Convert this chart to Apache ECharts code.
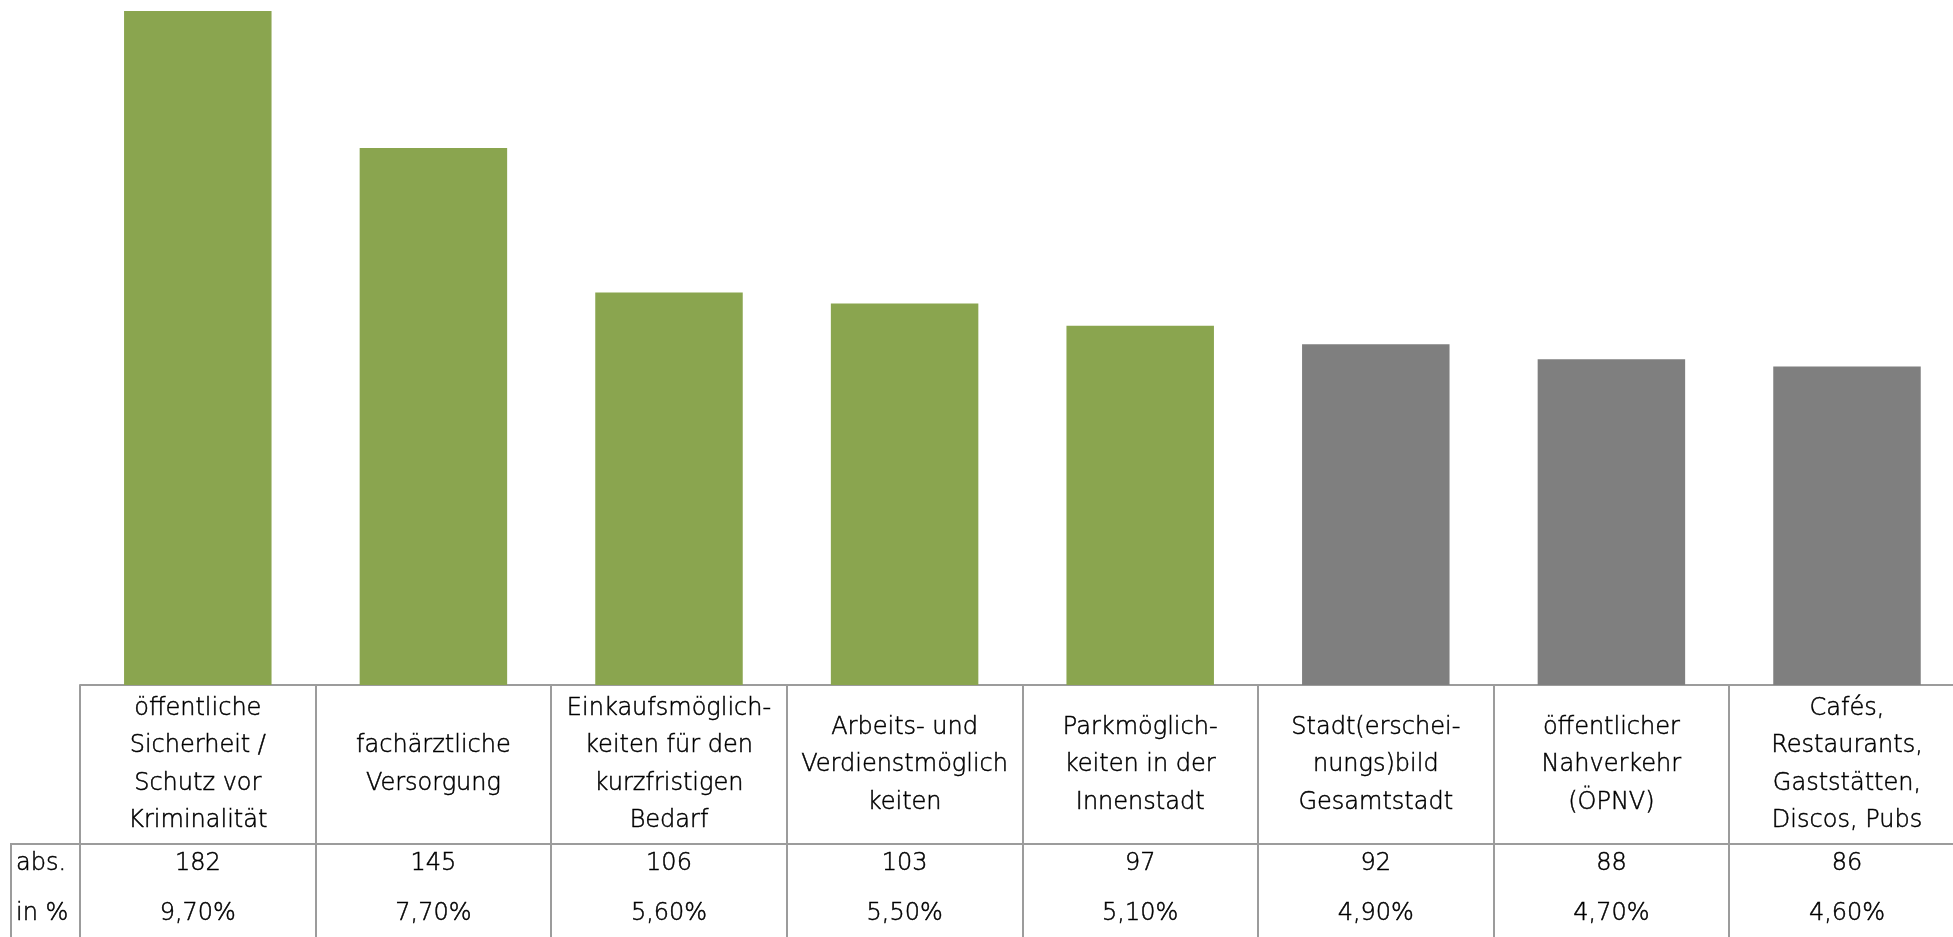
<!DOCTYPE html>
<html>
<head>
<meta charset="utf-8">
<title>Wichtigste Themen</title>
<script src="https://cdn.jsdelivr.net/npm/echarts@6/dist/echarts.min.js"></script>
<style>
  html, body { margin: 0; padding: 0; background: #ffffff; }
  #chart { width: 1953px; height: 937px; }
</style>
</head>
<body>
<div id="chart"></div>
<script>
// Categories (line breaks as set in the table header)
const categories = [
  'öffentliche\nSicherheit /\nSchutz vor\nKriminalität',
  'fachärztliche\nVersorgung',
  'Einkaufsmöglich-\nkeiten für den\nkurzfristigen\nBedarf',
  'Arbeits- und\nVerdienstmöglich\nkeiten',
  'Parkmöglich-\nkeiten in der\nInnenstadt',
  'Stadt(erschei-\nnungs)bild\nGesamtstadt',
  'öffentlicher\nNahverkehr\n(ÖPNV)',
  'Cafés,\nRestaurants,\nGaststätten,\nDiscos, Pubs'
];
// Number of mentions (abs.)
const absValues = [182, 145, 106, 103, 97, 92, 88, 86];
// Share of mentions (in %)
const pctValues = ['9,70%', '7,70%', '5,60%', '5,50%', '5,10%', '4,90%', '4,70%', '4,60%'];
// Row captions of the value table
const rowLabels = ['abs.', 'in %'];
// The first entries are highlighted in green, the rest in grey
const highlightedCount = 5;

const GREEN = '#8aa54f';
const GREY = '#7f7f7f';
const LINE = '#9c9c9c';
const TEXT = '#000000';
const FONT = '"DejaVu Sans"';
const WEIGHT = 200;
const SIZE = 24;
const STROKE = 0.5; // slight outline to give the thin face a bit more body

const chart = echarts.init(document.getElementById('chart'), null, { renderer: 'canvas' });

const GRID_LEFT = 80;
const GRID_HEIGHT = 685;
const CELL = 235.6;

const baseLabel = {
  interval: 0,
  fontFamily: FONT,
  fontWeight: WEIGHT,
  fontSize: SIZE,
  color: TEXT,
  textBorderColor: TEXT,
  textBorderWidth: STROKE,
  verticalAlign: 'middle',
  align: 'center'
};

const captionStyle = (text, y) => ({
  type: 'text',
  silent: true,
  style: {
    x: 16, y: y, text: text,
    font: WEIGHT + ' ' + SIZE + 'px ' + FONT,
    fill: TEXT, stroke: TEXT, lineWidth: STROKE,
    verticalAlign: 'middle', align: 'left'
  }
});

chart.setOption({
  backgroundColor: '#ffffff',
  animation: false,
  grid: {
    left: GRID_LEFT, top: 0, width: CELL * categories.length, height: GRID_HEIGHT,
    containLabel: false, outerBoundsMode: 'none'
  },
  xAxis: [
    {
      type: 'category',
      data: categories,
      position: 'bottom',
      axisLine: { show: true, lineStyle: { color: LINE, width: 2 } },
      axisTick: { show: true, interval: 0, length: 252, lineStyle: { color: LINE, width: 2 } },
      axisLabel: Object.assign({}, baseLabel, { margin: 80, lineHeight: 37.5 })
    },
    {
      type: 'category',
      data: categories,
      position: 'bottom',
      axisLine: { show: false },
      axisTick: { show: false },
      axisLabel: Object.assign({}, baseLabel, {
        margin: 179,
        formatter: (v, i) => String(absValues[i])
      })
    },
    {
      type: 'category',
      data: categories,
      position: 'bottom',
      axisLine: { show: false },
      axisTick: { show: false },
      axisLabel: Object.assign({}, baseLabel, {
        margin: 229,
        formatter: (v, i) => pctValues[i]
      })
    }
  ],
  yAxis: {
    type: 'value',
    min: 0,
    max: 185,
    show: false,
    splitLine: { show: false }
  },
  series: [{
    type: 'bar',
    data: absValues,
    barWidth: '62.6%',
    itemStyle: {
      color: (p) => (p.dataIndex < highlightedCount ? GREEN : GREY)
    },
    label: { show: false }
  }],
  graphic: [
    // horizontal rule between header row and value rows
    { type: 'line', shape: { x1: 10, y1: 844, x2: 1953, y2: 844 }, style: { stroke: LINE, lineWidth: 2 }, silent: true },
    // left border of the row captions
    { type: 'line', shape: { x1: 11, y1: 844, x2: 11, y2: 937 }, style: { stroke: LINE, lineWidth: 2 }, silent: true },
    captionStyle(rowLabels[0], 864),
    captionStyle(rowLabels[1], 914)
  ]
});
</script>
</body>
</html>
